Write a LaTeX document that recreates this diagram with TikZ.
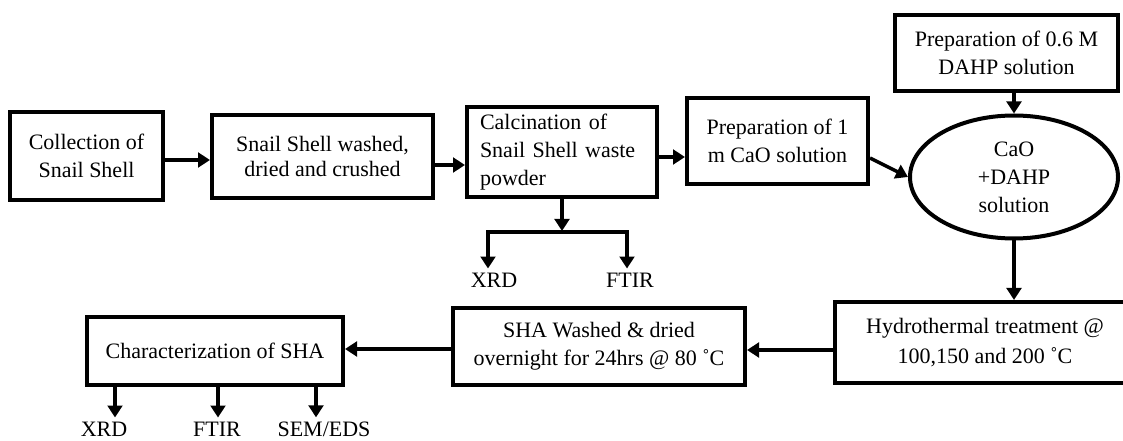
\documentclass[tikz,border=0pt]{standalone}
\usepackage{fontspec}
\setmainfont{Liberation Serif}
\usetikzlibrary{arrows.meta,shapes.geometric}
\begin{document}
\begin{tikzpicture}[x=0.75pt,y=-0.75pt,
  txt/.style={font=\fontsize{16.5}{21}\selectfont},
  box/.style={draw, line width=3pt, align=center, inner sep=0pt, txt},
  oval/.style={ellipse, draw, line width=3pt, align=center, inner sep=0pt, txt},
  lab/.style={inner sep=3pt, txt},
  tip/.tip={Triangle[length=9pt,width=11pt]},
  arr/.style={line width=2.6pt, -tip},
  line join=miter]
\useasboundingbox[fill=white] (0,0) rectangle (1123,441);
\clip (0,0) rectangle (1123,441);

% top row
\node[box, minimum width=114.75pt, minimum height=66pt] (b1) at (86.5,156) {Collection of\\Snail Shell};
\node[box, minimum width=165.75pt, minimum height=62.25pt, font=\fontsize{16.5}{19}\selectfont] (b2) at (322.5,156.5) {Snail Shell washed,\\dried and crushed};
\node[box, minimum width=142.5pt, minimum height=67.5pt, text width=123pt, align=left] (b3) at (562,152) {Calcination of\\Snail Shell waste\\powder};
\node[box, minimum width=135.75pt, minimum height=64.5pt] (b4) at (777.5,141) {Preparation of 1\\m CaO solution};
\node[box, minimum width=167.25pt, minimum height=57pt] (dahp) at (1006.5,53) {Preparation of 0.6 M\\DAHP solution};
\node[oval, minimum width=156pt, minimum height=92.25pt] (ell) at (1014,177) {CaO\\+DAHP\\solution};

% bottom row
\node[box, minimum width=225pt, minimum height=60.75pt, font=\fontsize{16.5}{22}\selectfont] (hyd) at (985,342.5) {Hydrothermal treatment @\\100,150 and 200 ˚C};
\node[box, minimum width=219pt, minimum height=57.75pt] (sha) at (599,346.5) {SHA Washed \& dried\\overnight for 24hrs @ 80 ˚C};
\node[box, minimum width=192pt, minimum height=51pt] (chr) at (215,351) {Characterization of SHA};

% labels
\node[lab] (xA) at (494,280) {XRD};
\node[lab] (fA) at (630,280) {FTIR};
\node[lab] (xB) at (104,429) {XRD};
\node[lab] (fB) at (217,429) {FTIR};
\node[lab] (sB) at (324,429) {SEM/EDS};

% connectors
\draw[arr] (b1.east |- 0,160) -- (b2.west |- 0,160);
\draw[arr] (b2.east |- 0,165) -- (b3.west |- 0,165);
\draw[arr] (b3.east |- 0,157) -- (b4.west |- 0,157);
\draw[arr] (b4.east |- 0,158) -- (ell.west);
\draw[arr] (ell.north |- dahp.south) -- (ell.north);
\draw[arr] (ell.south) -- (ell.south |- hyd.north);
\draw[arr] (hyd.west |- 0,350) -- (sha.east |- 0,350);
\draw[arr] (sha.west |- 0,349) -- (chr.east |- 0,349);

\coordinate (jL) at (488,232);
\coordinate (jR) at (627,232);
\draw[arr] (b3.south) -- (b3.south |- 0,231);
\draw[line width=2.6pt, tip-tip] (xA.north -| jL) -- (jL) -- (jR) -- (fA.north -| jR);

\draw[arr] (chr.south -| 115,0) -- (xB.north -| 115,0);
\draw[arr] (chr.south -| 218,0) -- (fB.north -| 218,0);
\draw[arr] (chr.south -| 316,0) -- (sB.north -| 316,0);
\end{tikzpicture}
\end{document}
